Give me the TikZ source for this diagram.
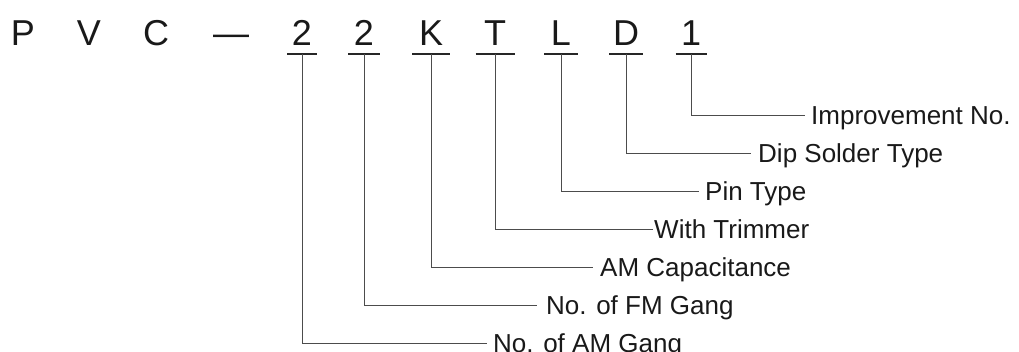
\documentclass[tikz,border=0pt]{standalone}
\usepackage{fontspec}
\setmainfont{Liberation Sans}
\begin{document}
\begin{tikzpicture}[x=1pt,y=-1pt,
  code/.style={font=\fontsize{36}{36}\selectfont, text=black!90, inner sep=0pt, anchor=base},
  lbl/.style={font=\fontsize{26}{26}\selectfont, text=black!90, inner ysep=0pt, inner xsep=6pt, text height=18pt, text depth=0pt, anchor=west},
  uline/.style={line width=1.1pt, draw=black!85},
  conn/.style={line width=0.8pt, draw=black!70}]
\useasboundingbox (0,0) rectangle (1019,351);
% code letters
\node[code] (p)   at (23,45)  {P};
\node[code] (v)   at (89,45)  {V};
\node[code] (c)   at (156,45) {C};
\node[code] (dash) at (231,45) {—};
\node[code] (n1)  at (302,45) {2};
\node[code] (n2)  at (364,45) {2};
\node[code] (k)   at (431,45) {K};
\node[code] (t)   at (495,45) {T};
\node[code] (l)   at (561,45) {L};
\node[code] (d)   at (626,45) {D};
\node[code] (one) at (691,45) {1};
% underline centres
\coordinate (u1) at (302,54);
\coordinate (u2) at (364,54);
\coordinate (u3) at (431,54);
\coordinate (u4) at (495,54);
\coordinate (u5) at (561,54);
\coordinate (u6) at (626,54);
\coordinate (u7) at (691,54);
\foreach \u/\w in {u1/15, u2/16, u3/19, u4/19.5, u5/17, u6/17, u7/15.5}
  \draw[uline] ([xshift=-\w pt]\u) -- ([xshift=\w pt]\u);
% labels
\node[lbl] (l7) at (805,115) {Improvement No.};
\node[lbl, inner xsep=7pt] (l6) at (751,153) {Dip Solder Type};
\node[lbl] (l5) at (699,191) {Pin Type};
\node[lbl, inner xsep=1pt] (l4) at (653,229) {With Trimmer};
\node[lbl, inner xsep=7pt] (l3) at (593,267) {AM Capacitance};
\node[lbl, inner xsep=9pt] (l2) at (537,305) {No. of FM Gang};
\node[lbl] (l1) at (487,343) {No. of AM Gang};
% connectors
\draw[conn] (u7) |- (l7.west);
\draw[conn] (u6) |- (l6.west);
\draw[conn] (u5) |- (l5.west);
\draw[conn] (u4) |- (l4.west);
\draw[conn] (u3) |- (l3.west);
\draw[conn] (u2) |- (l2.west);
\draw[conn] (u1) |- (l1.west);
\end{tikzpicture}
\end{document}
